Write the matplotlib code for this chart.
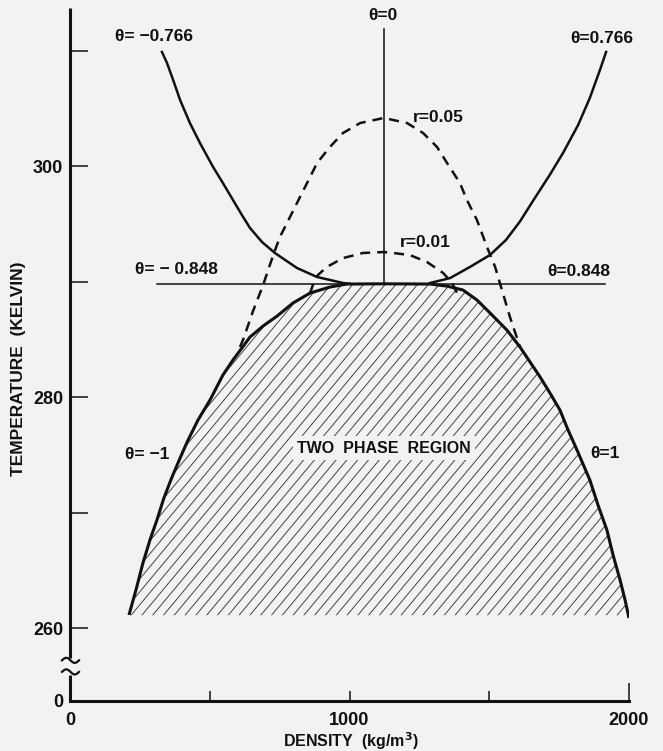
import numpy as np
import matplotlib
matplotlib.use('Agg')
import matplotlib.pyplot as plt
from matplotlib.patches import Polygon

plt.rcParams['font.family'] = ['Liberation Sans', 'DejaVu Sans']
plt.rcParams['font.weight'] = 'bold'

# ─── Values (density kg/m3, temperature K)
#
T_CRIT = 289.8
RHO_CRIT = 1123
T_BOTTOM = 261.1      # lower edge of the shaded two phase region

# coexistence curve, theta = -1 (left) through theta = 1 (right)
coex_rho = [211, 236, 261, 286, 311, 336, 365, 394, 419, 458, 501, 547, 583, 644, 691,
            741, 798, 859, 930, 991, 1123, 1288, 1349, 1406, 1456, 1503, 1563, 1610, 1646,
            1682, 1717, 1753, 1782, 1814, 1860, 1889, 1921, 1943, 1968, 1986, 2000]
coex_T = [261.13, 263.29, 265.63, 267.62, 269.35, 271.26, 273.07, 274.72, 276.10, 278.01,
          279.74, 281.90, 283.20, 285.19, 286.15, 287.01, 288.14, 289.00, 289.52, 289.78,
          289.80, 289.78, 289.60, 289.26, 288.40, 287.27, 285.80, 284.33, 283.03, 281.73,
          280.35, 278.87, 277.14, 275.41, 272.81, 270.65, 268.48, 266.32, 264.16, 262.42,
          260.87]

# theta = -0.766
left_rho = [329, 347, 369, 394, 429, 465, 512, 547, 583, 615, 644, 687, 733, 812, 884,
            977, 1000]
left_T = [309.87, 308.92, 307.45, 305.71, 303.72, 301.99, 299.91, 298.53, 297.06, 295.76,
          294.63, 293.42, 292.47, 291.17, 290.39, 289.87, 289.80]

# theta = 0.766
right_rho = [1288, 1360, 1431, 1503, 1560, 1610, 1657, 1717, 1764, 1818, 1860, 1896, 1918]
right_T = [289.87, 290.30, 291.26, 292.30, 293.60, 295.20, 297.00, 299.25, 301.13, 303.55,
           305.90, 308.31, 309.87]

# r = 0.05
r05_rho = [608, 619, 655, 691, 726, 751, 787, 823, 859, 884, 930, 977, 1038, 1123, 1206,
           1263, 1313, 1349, 1395, 1420, 1456, 1492, 1521, 1538, 1574, 1610]
r05_T = [284.33, 284.94, 287.45, 289.70, 292.21, 293.85, 295.58, 297.32, 299.05, 300.26,
         301.65, 302.86, 303.72, 304.16, 303.72, 302.86, 301.65, 300.26, 298.53, 297.06,
         295.32, 292.99, 291.26, 289.87, 286.93, 284.33]

# r = 0.01
r01_rho = [859, 869, 887, 919, 977, 1048, 1123, 1156, 1216, 1277, 1335, 1367, 1385]
r01_T = [289.00, 289.70, 290.56, 291.26, 292.03, 292.47, 292.55, 292.47, 292.29, 291.69,
         290.74, 289.87, 289.00]

# critical isotherm (theta = +-0.848) and critical isochore (theta = 0)
iso_rho = [311, 1914]
isochore_T = [289.8, 311.9]

y_ticks = [260, 270, 280, 290, 300, 310]
y_labels = ['260', '', '280', '', '300', '']
x_ticks = [0, 500, 1000, 1500, 2000]
x_labels = ['0', '', '1000', '', '2000']

BG = '#f2f2f2'
INK = '#111111'
Y_LOW, Y_HIGH = 253.68, 313.68

fig = plt.figure(figsize=(6.63, 7.51), dpi=100, facecolor=BG)
ax = fig.add_axes([70 / 663, 50 / 751, 559 / 663, 693 / 751])
ax.set_facecolor(BG)
ax.set_xlim(0, 2000)
ax.set_ylim(Y_LOW, Y_HIGH)

# shaded two phase region
region = list(zip(coex_rho, coex_T))
region = [(coex_rho[0], T_BOTTOM)] + region + [(coex_rho[-1], T_BOTTOM)]
poly = Polygon(region, closed=True, facecolor='none', edgecolor='none')
ax.add_patch(poly)

# hatch lines: ~10.8 px apart, slope 1.2 in pixels
px_x = 559 / 2000
px_y = 693 / (Y_HIGH - Y_LOW)
step = 10.8 / px_x
rise = 360
for x0 in np.arange(-400, 2100, step):
    x1 = x0 + rise / 1.2 / px_x
    hl, = ax.plot([x0, x1], [T_BOTTOM, T_BOTTOM + rise / px_y], color='#444444', lw=0.7)
    hl.set_clip_path(poly)

ax.plot(coex_rho, coex_T, color=INK, lw=2.2, solid_capstyle='butt')
ax.plot(left_rho, left_T, color=INK, lw=1.8)
ax.plot(right_rho, right_T, color=INK, lw=1.8)
ax.plot(r05_rho, r05_T, color=INK, lw=1.8, dashes=(4, 2.8))
ax.plot(r01_rho, r01_T, color=INK, lw=1.8, dashes=(4, 2.8))
ax.plot(iso_rho, [T_CRIT, T_CRIT], color=INK, lw=1.1)
ax.plot([RHO_CRIT, RHO_CRIT], isochore_T, color=INK, lw=1.1)

# labels on the chart
lab = dict(fontsize=12.5, fontweight='bold', color=INK, va='center', ha='left')
ax.text(161, 311.17, 'θ= −0.766', **lab)
ax.text(1789, 311.0, 'θ=0.766', **lab)
ax.text(1120, 313.07, 'θ=0', **dict(lab, ha='center'))
ax.text(1227, 304.24, 'r=0.05', **lab)
ax.text(1181, 293.42, 'r=0.01', **lab)
ax.text(233, 291.0, 'θ= − 0.848', **lab)
ax.text(1707, 290.9, 'θ=0.848', **lab)
ax.text(197, 275.06, 'θ= −1', **lab)
ax.text(1860, 275.15, 'θ=1', **lab)
ax.text(1122, 275.58, 'TWO  PHASE  REGION', ha='center', va='center', fontsize=11.5,
        fontweight='bold', color=INK, bbox=dict(facecolor=BG, edgecolor='none', pad=3))

# axes: left spine with a break, bottom spine
for s in ['top', 'right', 'left']:
    ax.spines[s].set_visible(False)
ax.spines['bottom'].set_linewidth(2.2)
ax.spines['bottom'].set_color(INK)
ax.spines['bottom'].set_bounds(0, 2000)

ytr = ax.get_yaxis_transform()
ax.plot([0, 0], [257.4, Y_HIGH], transform=ytr, color=INK, lw=2.2, clip_on=False,
        solid_capstyle='butt')
ax.plot([0, 0], [Y_LOW, 255.9], transform=ytr, color=INK, lw=2.2, clip_on=False,
        solid_capstyle='butt')
wx = np.linspace(-8, 9, 40)
for yc in [257.2, 256.2]:
    wy = yc + 0.22 * np.sin((wx + 8) / 17 * 2 * np.pi)
    ax.plot(wx / px_x, wy, color=INK, lw=1.6, clip_on=False)

ax.set_yticks(y_ticks + [Y_LOW])
ax.set_yticklabels(y_labels + ['0'])
ax.set_xticks(x_ticks)
ax.set_xticklabels(x_labels)
ax.tick_params(axis='y', direction='in', length=13, width=1.1, pad=5, labelsize=13,
               colors=INK)
ax.tick_params(axis='x', direction='in', length=7, width=1.1, pad=8, labelsize=13,
               colors=INK)
ax.yaxis.get_major_ticks()[-1].tick1line.set_markersize(0)
ax.xaxis.get_major_ticks()[0].tick1line.set_markersize(0)
ax.xaxis.get_major_ticks()[-1].tick1line.set_markersize(13)
for t in ax.get_xticklabels() + ax.get_yticklabels():
    t.set_fontweight('bold')

fig.text(19 / 663, 1 - 369 / 751, 'TEMPERATURE  (KELVIN)', rotation=90, ha='center',
         va='center', fontsize=12.5, fontweight='bold', color=INK)
fig.text(351 / 663, 1 - 741 / 751, 'DENSITY  (kg/m$^\\mathbf{3}$)', ha='center', va='center',
         fontsize=11.5, fontweight='bold', color=INK)

fig.savefig('out.png', dpi=100, facecolor=BG)
